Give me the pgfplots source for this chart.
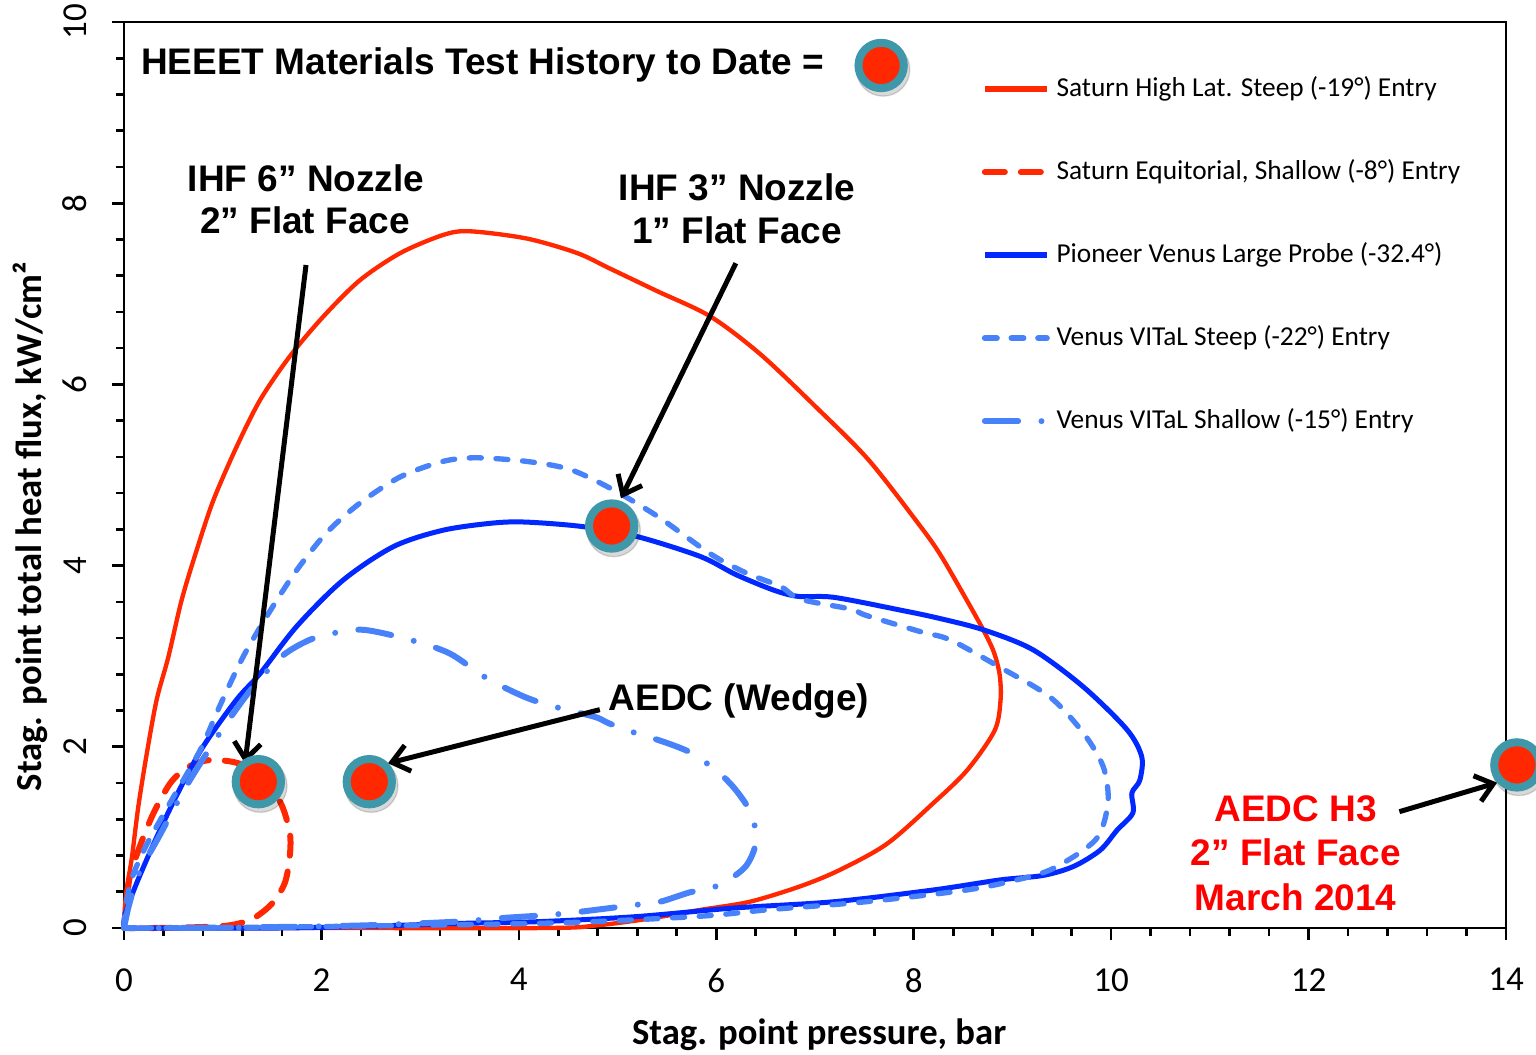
\documentclass[border=0pt]{standalone}
\usepackage{fontspec}
\setmainfont{Carlito}
\newfontfamily\arialfont{Liberation Sans}
\usepackage{pgfplots}
\pgfplotsset{compat=1.18}
\usetikzlibrary{arrows.meta}
\definecolor{satred}{RGB}{255,40,0}
\definecolor{pvblue}{RGB}{0,40,255}
\definecolor{vitblue}{RGB}{72,130,250}
\definecolor{ringteal}{RGB}{63,151,170}
\definecolor{annred}{RGB}{255,0,0}
\begin{document}
\begin{tikzpicture}
\begin{axis}[
  scale only axis, width=414.6pt, height=271.8pt,
  xmin=0, xmax=14, ymin=0, ymax=10,
  xtick={0,2,...,14}, ytick={0,2,...,10},
  minor x tick num=4, minor y tick num=4,
  tick align=outside, tick pos=left,
  major tick length=3.6pt, minor tick length=2.4pt,
  axis line style={line width=0.8pt},
  tick style={line width=0.8pt, black},
  tick label style={font=\fontsize{10.5}{12}\selectfont},
  /pgf/number format/assume math mode=true,
  yticklabel style={rotate=90, anchor=south},
  yticklabel shift=4pt,
  xticklabel shift=5pt,
  xlabel={Stag. point pressure, bar},
  ylabel={Stag. point total heat flux, kW/cm²},
  label style={font=\bfseries\fontsize{11}{13}\selectfont},
  xlabel style={at={(axis description cs:0.503,-0.118)}, anchor=center},
  ylabel style={at={(axis description cs:-0.068,0.443)}, anchor=center},
  clip=false,
  legend image code/.code={\draw[#1, line width=1.8pt] (0pt,0pt) -- (18.6pt,0pt);},
  legend cell align=left,
  legend style={draw=none, fill=none, at={(axis cs:8.69,9.47)}, anchor=north west,
    inner sep=0pt, outer sep=0pt, row sep=13.4pt, column sep=0pt,
    font=\fontsize{8.2}{9.8}\selectfont},
]
% Saturn High Lat. Steep (-19 deg) Entry
\addplot[satred, line width=1.3pt, line join=round, smooth, tension=0.5] coordinates {
(0,0) (0.01,0.24) (0.03,0.45) (0.08,0.78) (0.145,1.34) (0.23,1.92) (0.331,2.52)
(0.449,2.99) (0.584,3.62) (0.736,4.17) (0.905,4.72) (1.14,5.31) (1.38,5.83)
(1.68,6.31) (2.02,6.75) (2.39,7.15) (2.80,7.45) (3.235,7.65) (3.505,7.69)
(4.08,7.61) (4.59,7.45) (4.92,7.28) (5.40,7.03) (5.94,6.75) (6.45,6.33)
(7.01,5.75) (7.54,5.17) (8.07,4.43) (8.27,4.12) (8.50,3.69) (8.70,3.30)
(8.81,3.05) (8.87,2.80) (8.88,2.52) (8.82,2.18) (8.54,1.74) (8.20,1.38)
(7.73,0.93) (7.25,0.64) (6.85,0.46) (6.34,0.29) (5.84,0.20) (5.30,0.10)
(4.80,0.03) (4.30,0.0) (2.0,0.0) (0.1,0.0)};
\addlegendentry{Saturn High Lat. Steep (-19°) Entry}
% Saturn Equitorial, Shallow (-8 deg) Entry
\addplot[satred, line width=1.8pt, line cap=round, dash pattern=on 6pt off 4.8pt, smooth, tension=0.5] coordinates {
(0,0) (0.03,0.30) (0.06,0.57) (0.16,0.90) (0.30,1.27) (0.47,1.60) (0.64,1.77)
(0.84,1.85) (1.07,1.84) (1.25,1.78) (1.45,1.62) (1.60,1.35) (1.68,1.05)
(1.68,0.80) (1.63,0.50) (1.50,0.27) (1.30,0.10) (1.07,0.03) (0.77,0.01)
(0.30,0.0) (0.05,0.0)};
\addlegendentry{Saturn Equitorial, Shallow (-8°) Entry}
% Pioneer Venus Large Probe (-32.4 deg)
\addplot[pvblue, line width=1.5pt, line join=round, smooth, tension=0.5] coordinates {
(0,0) (0.01,0.15) (0.13,0.50) (0.33,1.00) (0.55,1.50) (0.80,2.00) (1.14,2.52)
(1.38,2.81) (1.75,3.33) (2.22,3.84) (2.73,4.21) (3.23,4.39) (3.74,4.47)
(4.08,4.48) (4.65,4.43) (5.20,4.32) (5.84,4.10) (6.20,3.90) (6.58,3.73)
(6.83,3.66) (7.19,3.65) (7.86,3.51) (8.25,3.42) (8.71,3.29) (9.21,3.07)
(9.72,2.66) (10.16,2.19) (10.31,1.89) (10.29,1.63) (10.21,1.49) (10.22,1.27)
(10.06,1.08) (9.89,0.86) (9.62,0.68) (9.31,0.58) (8.87,0.53) (8.20,0.42)
(7.19,0.29) (6.17,0.22) (5.18,0.125) (4.20,0.07) (3.37,0.05) (2.50,0.02)
(1.57,0.0) (0.30,0.0) (0,0)};
\addlegendentry{Pioneer Venus Large Probe (-32.4°)}
% Venus VITaL Steep (-22 deg) Entry
\addplot[vitblue, line width=1.6pt, line cap=round, dash pattern=on 3.6pt off 4.4pt, smooth, tension=0.5] coordinates {
(0,0) (0.02,0.25) (0.08,0.55) (0.22,0.90) (0.45,1.35) (0.77,1.96) (0.97,2.45)
(1.21,3.00) (1.48,3.50) (1.75,3.95) (2.05,4.36) (2.39,4.69) (2.80,4.98)
(3.23,5.15) (3.57,5.19) (4.08,5.15) (4.52,5.06) (4.95,4.84) (5.41,4.54)
(5.94,4.13) (6.30,3.92) (6.65,3.77) (6.85,3.63) (7.36,3.52) (7.52,3.45)
(8.07,3.27) (8.37,3.18) (8.87,2.88) (9.38,2.55) (9.72,2.15) (9.92,1.78)
(9.97,1.41) (9.89,1.05) (9.72,0.86) (9.38,0.64) (9.04,0.53) (8.54,0.42)
(7.52,0.29) (6.51,0.20) (5.84,0.13) (4.50,0.06) (3.00,0.03) (1.50,0.01)
(0.20,0.0) (0,0)};
\addlegendentry{Venus VITaL Steep (-22°) Entry}
% Venus VITaL Shallow (-15 deg) Entry
\addplot[vitblue, line width=1.8pt, line cap=round, dash pattern=on 10pt off 7pt on 0pt off 7pt, smooth, tension=0.5] coordinates {
(0,0) (0.05,0.25) (0.15,0.60) (0.35,1.00) (0.65,1.60) (1.00,2.20) (1.30,2.65)
(1.60,3.00) (1.88,3.18) (2.15,3.26) (2.44,3.29) (2.90,3.18) (3.30,3.03)
(3.67,2.76) (4.06,2.55) (4.37,2.44) (4.77,2.33) (4.91,2.26) (5.16,2.16)
(5.48,2.05) (5.75,1.93) (6.02,1.72) (6.20,1.52) (6.36,1.25) (6.40,0.94)
(6.29,0.67) (6.02,0.47) (5.72,0.39) (5.43,0.29) (5.14,0.25) (4.55,0.17)
(4.25,0.14) (3.83,0.11) (3.37,0.07) (2.47,0.03) (1.50,0.01) (0.50,0.0) (0,0)};
\addlegendentry{Venus VITaL Shallow (-15°) Entry}
% arrows
\draw[black, line width=1.5pt, -{Straight Barb[length=5pt,width=8pt]}] (axis cs:1.844,7.318) -- (axis cs:1.226,1.818);
\draw[black, line width=1.5pt, -{Straight Barb[length=5pt,width=8pt]}] (axis cs:6.198,7.337) -- (axis cs:5.035,4.743);
\draw[black, line width=1.5pt, -{Straight Barb[length=5pt,width=8pt]}] (axis cs:4.82,2.41) -- (axis cs:2.674,1.818);
\draw[black, line width=1.5pt, -{Straight Barb[length=5pt,width=8pt]}] (axis cs:12.92,1.284) -- (axis cs:13.91,1.604);
% HEEET test points
\addplot[forget plot, only marks, mark=*, mark size=8pt, draw=none, fill=black, opacity=0.15,
  every mark/.append style={xshift=0.6pt, yshift=-1.2pt}] coordinates {
(1.361,1.615) (2.485,1.615) (4.94,4.437) (14.11,1.80) (7.67,9.52)};
\addplot[forget plot, only marks, mark=*, mark size=6.8pt, draw=ringteal, fill=satred,
  mark options={line width=2.4pt}] coordinates {
(1.361,1.615) (2.485,1.615) (4.94,4.437) (14.11,1.80) (7.67,9.52)};
% annotations
\begin{scope}[every node/.style={font=\arialfont\bfseries\fontsize{11.1}{12.6}\selectfont, inner sep=0pt}]
\node[anchor=base west] at (axis cs:0.166,9.42) {HEEET Materials Test History to Date =};
\node[anchor=base] at (axis cs:1.844,8.13) {IHF 6” Nozzle};
\node[anchor=base] at (axis cs:1.834,7.67) {2” Flat Face};
\node[anchor=base] at (axis cs:6.21,8.03) {IHF 3” Nozzle};
\node[anchor=base] at (axis cs:6.21,7.56) {1” Flat Face};
\node[anchor=base] at (axis cs:6.23,2.40) {AEDC (Wedge)};
\node[anchor=base, text=annred] at (axis cs:11.87,1.178) {AEDC H3};
\node[anchor=base, text=annred] at (axis cs:11.87,0.692) {2” Flat Face};
\node[anchor=base, text=annred] at (axis cs:11.87,0.195) {March 2014};
\end{scope}
\end{axis}
\pgfresetboundingbox
\useasboundingbox (-37.2pt,-37.8pt) rectangle (423.6pt,278.4pt);
\end{tikzpicture}
\end{document}
